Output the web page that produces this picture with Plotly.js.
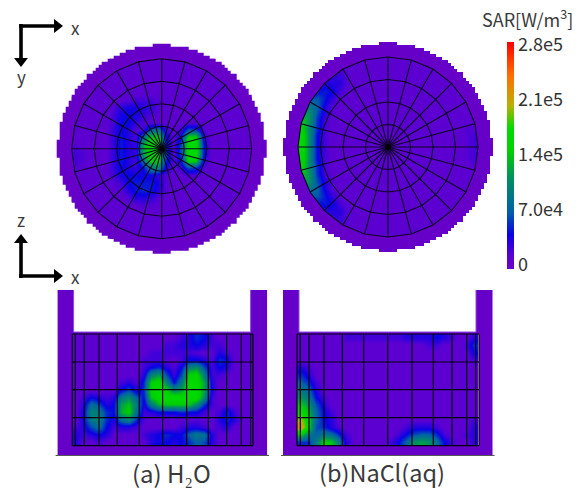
<!DOCTYPE html>
<html><head><meta charset="utf-8">
<script src="https://cdn.plot.ly/plotly-3.0.1.min.js"></script>
<style>html,body{margin:0;padding:0;background:#fff}</style></head>
<body><div id="chart" style="width:579px;height:489px"></div>
<script>
const _ = null;
// SAR, in units of 1e4 W/m3. Rows run top to bottom.
const sarTopWater = [
[_,_,_,_,_,1,1,1,1,1,1,1,1,1,1,1,1,1,1,_,_,_,_,_],
[_,_,_,_,1,1,1,1,1,1,1,1,1,1,1,1,1,1,1,1,_,_,_,_],
[_,_,_,1,1,1,1,1,1,1,1,1,1,1,1,1,1,1,1,1,1,_,_,_],
[_,_,1,1,1,1,1,1,1,1,1,1,1,1,1,1,1,1,1,1,1,1,_,_],
[_,1,1,1,1,1,1,1,1,1,1,1,1,1,1,1,1,1,1,1,1,1,1,_],
[1,1,1,1,1,1,1,1.5,2,2,2,1.5,1.5,1,1,1,1,1,1,1,1,1,1,1],
[1,1,1,1,1,1.5,3,3.5,3.5,3,2.5,1.5,1,1,1,1,1,1,1,1,1,1,1,1],
[1,1,1,1,1,2,3.5,4,3.5,2.5,1.5,1.2,1,1,1,1,1,1,1,1,1,1,1,1],
[1,1,1,1,1,2,4,4,2.5,1.5,1.2,1.2,1,1,1,1.5,1.5,1,1,1,1,1,1,1],
[1,1,1,1,1,2.5,4,3,1.5,2,8,9,2.5,1,2,7,6,1.5,1,1,1,1,1,1],
[1,1,1,1,1,2.5,4.5,3,2,9,15,15,4,1,4,16,16,3,1,1,1,1,1,1],
[1.5,1,1,1,1,2.5,4.5,3,2.5,13,16,16,5,1,6,17,17,4.5,1,1,1,1,1,1],
[2,1.5,1,1,1,2.5,4.5,3,2.5,12,16,16,6,1,6,17,17,4.5,1,1,1,1,1,1],
[2,1.5,1,1,1,2.5,4.5,3,2,9,15,15,5,1.5,4,16,15,3,1,1,1,1,1,1],
[1.5,1,1,1,1,2.5,4,3,2.5,4,9,10,3,1,2,6,5,1.5,1,1,1,1,1,1],
[1,1,1,1,1,2,3.5,4,4,3.5,3.5,2.5,1.5,1,1,1.5,1.5,1,1,1,1,1,1,1],
[1,1,1,1,1,1.5,2,4,4.5,4.5,4.5,3.5,1.5,1,1,1,1,1,1,1,1,1,1,1],
[1,1,1,1,1,1,1.5,3,4.5,5,4.5,3,1.5,1,1,1,1,1,1,1,1,1,1,1],
[1,1,1,1,1,1,1,1.5,3,3,2.5,1.5,1,1,1,1,1,1,1,1,1,1,1,1],
[_,1,1,1,1,1,1,1,1,1.5,1.5,1,1,1,1,1,1,1,1,1,1,1,1,_],
[_,_,1,1,1,1,1,1,1,1,1,1,1,1,1,1,1,1,1,1,1,1,_,_],
[_,_,_,1,1,1,1,1,1,1,1,1,1,1,1,1,1,1,1,1,1,_,_,_],
[_,_,_,_,1,1,1,1,1,1,1,1,1,1,1,1,1,1,1,1,_,_,_,_],
[_,_,_,_,_,1,1,1,1,1,1,1,1,1,1,1,1,1,1,_,_,_,_,_]];
const sarTopSalt = [
[_,_,_,_,_,1,1,1,1,1,1,1,1,1,1,1,1,1,1,_,_,_,_,_],
[_,_,_,_,1.5,1.5,1.2,1,1,1,1,1,1,1,1,1,1,1,1,1,_,_,_,_],
[_,_,_,2,2.5,2.5,1.5,1,1,1,1,1,1,1,1,1,1,1,1,1,1,_,_,_],
[_,_,2.5,3,3,3,1.5,1,1,1,1,1,1,1,1,1,1,1,1,1,1,1,_,_],
[_,4,4,4.5,4,2,1.2,1,1,1,1,1,1,1,1,1,1,1,1,1,1,1,1,_],
[6,6,6.5,4.5,2.5,1.2,1,1,1,1,1,1,1,1,1,1,1,1,1,1,1,1,1,1],
[8,9,7,3.5,1.5,1,1,1,1,1,1,1,1,1,1,1,1,1,1,1,1,1,1,1],
[12,11,6,3,1.5,1,1,1,1,1,1,1,1,1,1,1,1,1,1,1,1,1,1,1],
[14,11,5,2,1,1,1,1,1,1,1,1,1,1,1,1,1,1,1,1,1,1,1,1],
[15,10,5,2,1,1,1,1,1,1,1,1,1,1,1,1,1,1,1,1,1,1,1.5,1.5],
[16,10,4,2,1,1,1,1,1,1,1,1,1,1,1,1,1,1,1,1,1,1,1.5,2],
[16,10,4,2,1,1,1,1,1,1,1,1,1,1,1,1,1,1,1,1,1,1,1.5,2],
[16,10,4,2,1,1,1,1,1,1,1,1,1,1,1,1,1,1,1,1,1,1,1.5,2],
[16,10,4,2,1,1,1,1,1,1,1,1,1,1,1,1,1,1,1,1,1,1,1.5,2],
[15,10,5,2,1,1,1,1,1,1,1,1,1,1,1,1,1,1,1,1,1,1,1,1.5],
[14,11,5,2,1,1,1,1,1,1,1,1,1,1,1,1,1,1,1,1,1,1,1,1],
[12,11,6,3,1.5,1,1,1,1,1,1,1,1,1,1,1,1,1,1,1,1,1,1,1],
[8,9,7,3.5,1.5,1,1,1,1,1,1,1,1,1,1,1,1,1,1,1,1,1,1,1],
[6,6,6.5,4.5,2.5,1.2,1,1,1,1,1,1,1,1,1,1,1,1,1,1,1,1,1,1],
[_,4,4,4.5,4,2,1.2,1,1,1,1,1,1,1,1,1,1,1,1,1,1,1,1,_],
[_,_,2.5,3,3,3,1.5,1,1,1,1,1,1,1,1,1,1,1,1,1,1,1,_,_],
[_,_,_,2,2.5,2.5,1.5,1,1,1,1,1,1,1,1,1,1,1,1,1,1,_,_,_],
[_,_,_,_,1.5,1.5,1.2,1,1,1,1,1,1,1,1,1,1,1,1,1,_,_,_,_],
[_,_,_,_,_,1,1,1,1,1,1,1,1,1,1,1,1,1,1,_,_,_,_,_]];
const sarSideWater = [
[1,1,1,1,1,1,1,1,1,1,1,1,1,1,2,3,5,4,2,1,1,1,1,1],
[1,1,1,1,1,1,1,1,1,1,1,1,2,2,3,3,4,3,2,2,1,1,1,1],
[1,1,1,1,1,1,1,1,1,1,2,2,2,2,2,2,1.5,1,1,3,2,1,1,1],
[1,1,1,1,1,1,1,1,1,2,2,2,1.5,1,2,4,4,3,1.5,5,4,1,1,1],
[1,1,1,1,1,1,1,1,1,2,4,5,3,1.5,4,10,11,6,2,4,3,1,1,1],
[1,1,1,1,1,1,1,1,1,3,10,12,6,2,6,15,16,9,2,2,1,1,1,1],
[1,1,1,1,1,1,2,3,1.5,5,15,17,10,4,9,17,17,12,3,1,1,1,1,1],
[1,1,1,1,1,1,4,6,3,5,16,17,15,10,12,17,17,12,3,1,1,1,1,1],
[1,2,4,3,2,3,9,11,7,4,14,17,17,17,17,17,17,10,2,1,1,1,1,1],
[1,3,8,6,3,4,12,14,9,3,9,13,14,14,14,14,10,5,2,1,1,1,1,1],
[1,4,10,9,5,4,13,15,8,2,3,4,4,4,5,4,4,2,1,2,5,2,1,1],
[1,4,9,10,5,3,8,10,5,1.5,1,1,1,1,1,1,1.5,1,1,3,5,3,1,1],
[2,3,6,8,4,2,3,3,2,1,1,1,1,1,2,3,3,2,1,2,3,1,1,1],
[3,2,3,4,3,1,1,1,1,2,3,4,5,4,4,7,9,8,3,1,1,1,1,1],
[3,1,1,2,1,1,1,1,1,1,3,4,4,3,4,5,7,6,3,1,1,1,1,1]];
const sarSideSalt = [
[1,1,1,1,1,1,2,2,2,2,2,2,2,2,3,3,3,3,4,3,2,1,1,3],
[1,1,1,1,1,1,1,1,1,1,1,1,1,1,1,1,1,2,2,1,1,1,2,5],
[1,1,1,1,1,1,1,1,1,1,1,1,1,1,1,1,1,1,1,1,1,1,1,4],
[1,1,1,1,1,1,1,1,1,1,1,1,1,1,1,1,1,1,1,1,1,1,1,2],
[3,2,1,1,1,1,1,1,1,1,1,1,1,1,1,1,1,1,1,1,1,1,1,1],
[5,3,1,1,1,1,1,1,1,1,1,1,1,1,1,1,1,1,1,1,1,1,1,1],
[7,5,2,1,1,1,1,1,1,1,1,1,1,1,1,1,1,1,1,1,1,1,1,1],
[9,7,3,1,1,1,1,1,1,1,1,1,1,1,1,1,1,1,1,1,1,1,1,1],
[11,9,4,2,1,1,1,1,1,1,1,1,1,1,1,1,1,1,1,1,1,1,1,1],
[14,11,6,3,1,1,1,1,1,1,1,1,1,1,1,1,1,1,1,1,1,1,1,1],
[17,13,7,4,2,1,1,1,1,1,1,1,1,1,1,1,1,1,1,1,1,1,1,1],
[20,15,7,4,3,1,1,1,1,1,1,1,1,1,1,1,1,1,1,1,1,1,1,2],
[22,15,6,5,3,1.5,1,1,1,1,1,1,1,1,2,3,3,3,2,1,1,1,1,3],
[14,9,7,9,8,5,2,1,1,1,1,1,1,2,4,6,7,7,5,2,1,1,2,3],
[5,5,9,15,14,9,3,1,1,1,1,1,2,4,7,11,12,11,8,4,2,1,1,3]];

const sarTicks = [0, 7, 14, 21, 28];
const sarTickText = ['0', '7.0e4', '1.4e5', '2.1e5', '2.8e5'];
const ringRadii = [22.5, 45, 67.5, 90];
const spokeAngles = [0,15,30,45,60,75,90,105,120,135,150,165,180,195,210,225,240,255,270,285,300,315,330,345];
const sideLinesWater = [-90.3,-87.3,-78.3,-63.6,-45.3,-23.3,0,24,45.7,64,78.7,88,90.4];
const sideLinesSalt = [-91,-87.7,-79,-64,-45.6,-24.3,-0.3,24,45.3,64,78.7,87.7,91];
const sideLevels = [0, 28, 55.7, 83.7, 111.7];
const discRadius = 104, cellStep = 3;
const purple = '#6600c8', gridInk = '#0c0420';

const W = 579, H = 489;
const panels = [
 {n:'',  cx:161.7, cy:148.8, kind:'top',  z:sarTopWater},
 {n:'2', cx:388,   cy:147,   kind:'top',  z:sarTopSalt},
 {n:'3', cx:162.6, kind:'side', z:sarSideWater, lines:sideLinesWater},
 {n:'4', cx:388,   kind:'side', z:sarSideSalt,  lines:sideLinesSalt}
];

function steppedDisc(){
  const pts=[];
  const half=Math.round(discRadius/cellStep);
  for(let i=-half;i<=half;i++){
    const y0=i*cellStep, y1=(i+1)*cellStep, ym=(y0+y1)/2;
    const s=discRadius*discRadius-ym*ym; if(s<0) continue;
    const x=Math.round(Math.sqrt(s)/cellStep)*cellStep;
    pts.push([x,y0],[x,y1]);
  }
  return pts.concat(pts.slice().reverse().map(p=>[-p[0],p[1]]));
}
function polygon(r){ return spokeAngles.concat([0]).map(a=>[r*Math.cos(a*Math.PI/180),r*Math.sin(a*Math.PI/180)]); }

const data=[], layout={
  width:W,height:H,paper_bgcolor:'#fff',plot_bgcolor:'rgba(0,0,0,0)',showlegend:false,
  margin:{l:0,r:0,t:0,b:0,autoexpand:false},
  coloraxis:{cmin:-0.5,cmax:28.4,
    colorscale:[[0,'#6a00c8'],[0.06,'#5a00d2'],[0.15,'#0a00e6'],[0.25,'#0060a8'],[0.4,'#009060'],[0.52,'#00d000'],[0.62,'#00dc00'],[0.72,'#b8b000'],[0.85,'#ff7000'],[1,'#ff0000']],
    colorbar:{x:507/W,xanchor:'left',y:1-42/H,yanchor:'top',len:227/H,lenmode:'fraction',thickness:7,thicknessmode:'pixels',
      xpad:0,ypad:0,outlinewidth:0,ticks:'',tickmode:'array',tickvals:sarTicks,ticktext:sarTickText,
      tickfont:{family:'"Noto Sans CJK JP"',size:18,color:'#333'}}}
};
const plainAxis={showgrid:false,zeroline:false,showticklabels:false,ticks:'',showline:false,fixedrange:true};
panels.forEach(p=>{
  const xa='x'+p.n, ya='y'+p.n;
  if(p.kind==='top'){
    const h=106;
    layout['xaxis'+p.n]=Object.assign({},plainAxis,{domain:[(p.cx-h)/W,(p.cx+h)/W],range:[-h,h],anchor:ya});
    layout['yaxis'+p.n]=Object.assign({},plainAxis,{domain:[1-(p.cy+h)/H,1-(p.cy-h)/H],range:[h,-h],anchor:xa});
    const disc=steppedDisc();
    data.push({type:'heatmap',z:p.z,x0:-86.25,dx:7.5,y0:-86.25,dy:7.5,zsmooth:'best',coloraxis:'coloraxis',xaxis:xa,yaxis:ya,hoverinfo:'skip'});
    const inner=polygon(90).reverse();
    const ring=disc.concat([disc[0]],[inner[0]],inner,[inner[0]],[disc[0]]);
    data.push({type:'scatter',mode:'lines',fill:'toself',fillcolor:purple,line:{width:0,color:purple},hoverinfo:'skip',xaxis:xa,yaxis:ya,x:ring.map(q=>q[0]),y:ring.map(q=>q[1])});
    const gx=[],gy=[];
    ringRadii.forEach(r=>{polygon(r).forEach(q=>{gx.push(q[0]);gy.push(q[1]);});gx.push(null);gy.push(null);});
    spokeAngles.forEach(a=>{gx.push(0,90*Math.cos(a*Math.PI/180),null);gy.push(0,90*Math.sin(a*Math.PI/180),null);});
    data.push({type:'scatter',mode:'lines',x:gx,y:gy,line:{color:gridInk,width:1.1},hoverinfo:'skip',xaxis:xa,yaxis:ya});
    data.push({type:'scatter',mode:'markers',x:[0],y:[0],marker:{color:'#000',size:5},hoverinfo:'skip',xaxis:xa,yaxis:ya});
  } else {
    layout['xaxis'+p.n]=Object.assign({},plainAxis,{domain:[(p.cx-108)/W,(p.cx+108)/W],range:[-108,108],anchor:ya});
    layout['yaxis'+p.n]=Object.assign({},plainAxis,{domain:[1-460/H,1-285/H],range:[126,-49],anchor:xa});
    data.push({type:'heatmap',z:p.z,x0:p.lines[0]+3.77,dx:7.53,y0:3.72,dy:7.447,zsmooth:'best',coloraxis:'coloraxis',xaxis:xa,yaxis:ya,hoverinfo:'skip'});
    const L=p.lines[0], R=p.lines[p.lines.length-1], B=sideLevels[sideLevels.length-1];
    const ux=[-105,-89,-89,88,88,104.5,104.5,R,R,L,L,R,104.5,-105,-105];
    const uy=[-44,-44,-2,-2,-44,-44,121,121,0,0,B,B,121,121,-44];
    data.push({type:'scatter',mode:'lines',x:ux,y:uy,fill:'toself',fillcolor:purple,line:{width:0,color:purple},hoverinfo:'skip',xaxis:xa,yaxis:ya});
    data.push({type:'scatter',mode:'lines',x:[-89,-89,88,88],y:[-44,-2,-2,-44],line:{width:1,color:'#8a4ce0'},hoverinfo:'skip',xaxis:xa,yaxis:ya});
    data.push({type:'scatter',mode:'lines',x:[-107,106.5],y:[121.5,121.5],line:{width:1,color:'#555'},hoverinfo:'skip',xaxis:xa,yaxis:ya});
    const gx=[],gy=[];
    p.lines.forEach(v=>{gx.push(v,v,null);gy.push(sideLevels[0],B,null);});
    sideLevels.forEach(v=>{gx.push(L,R,null);gy.push(v,v,null);});
    data.push({type:'scatter',mode:'lines',x:gx,y:gy,line:{color:'#05020f',width:1.2},hoverinfo:'skip',xaxis:xa,yaxis:ya});
  }
});

layout.xaxis5=Object.assign({},plainAxis,{domain:[0,1],range:[0,W],anchor:'y5'});
layout.yaxis5=Object.assign({},plainAxis,{domain:[0,1],range:[H,0],anchor:'x5'});
const arrowLines=[[19,56,26,26],[21,21,24,60],[21,21,278,241],[19,56,276,276]];
const arrowTips=[[57,26,'triangle-right'],[21,61,'triangle-down'],[21,240,'triangle-up'],[57,276,'triangle-right']];
arrowLines.forEach(a=>data.push({type:'scatter',mode:'lines',x:[a[0],a[1]],y:[a[2],a[3]],line:{color:'#000',width:3.6},hoverinfo:'skip',xaxis:'x5',yaxis:'y5'}));
data.push({type:'scatter',mode:'markers',x:arrowTips.map(a=>a[0]),y:arrowTips.map(a=>a[1]),marker:{color:'#000',size:12,symbol:arrowTips.map(a=>a[2])},hoverinfo:'skip',xaxis:'x5',yaxis:'y5'});

const ff='"Noto Sans CJK JP"';
function label(t,x,y,size){return {text:t,xref:'paper',yref:'paper',x:x/W,y:1-y/H,xanchor:'center',yanchor:'middle',showarrow:false,font:{family:ff,size:size,color:'#3a3a3a'}};}
layout.annotations=[
  label('x',75,27,17), label('y',21,76,17), label('z',21,219,17), label('x',75,276,17),
  label('SAR[W/m<sup>3</sup>]',527,18,18),
  label('(a) H₂O',171,472,24), label('(b)NaCl(aq)',382,472,23.5)
];
Plotly.newPlot('chart',data,layout,{staticPlot:true,displayModeBar:false});
</script></body></html>
